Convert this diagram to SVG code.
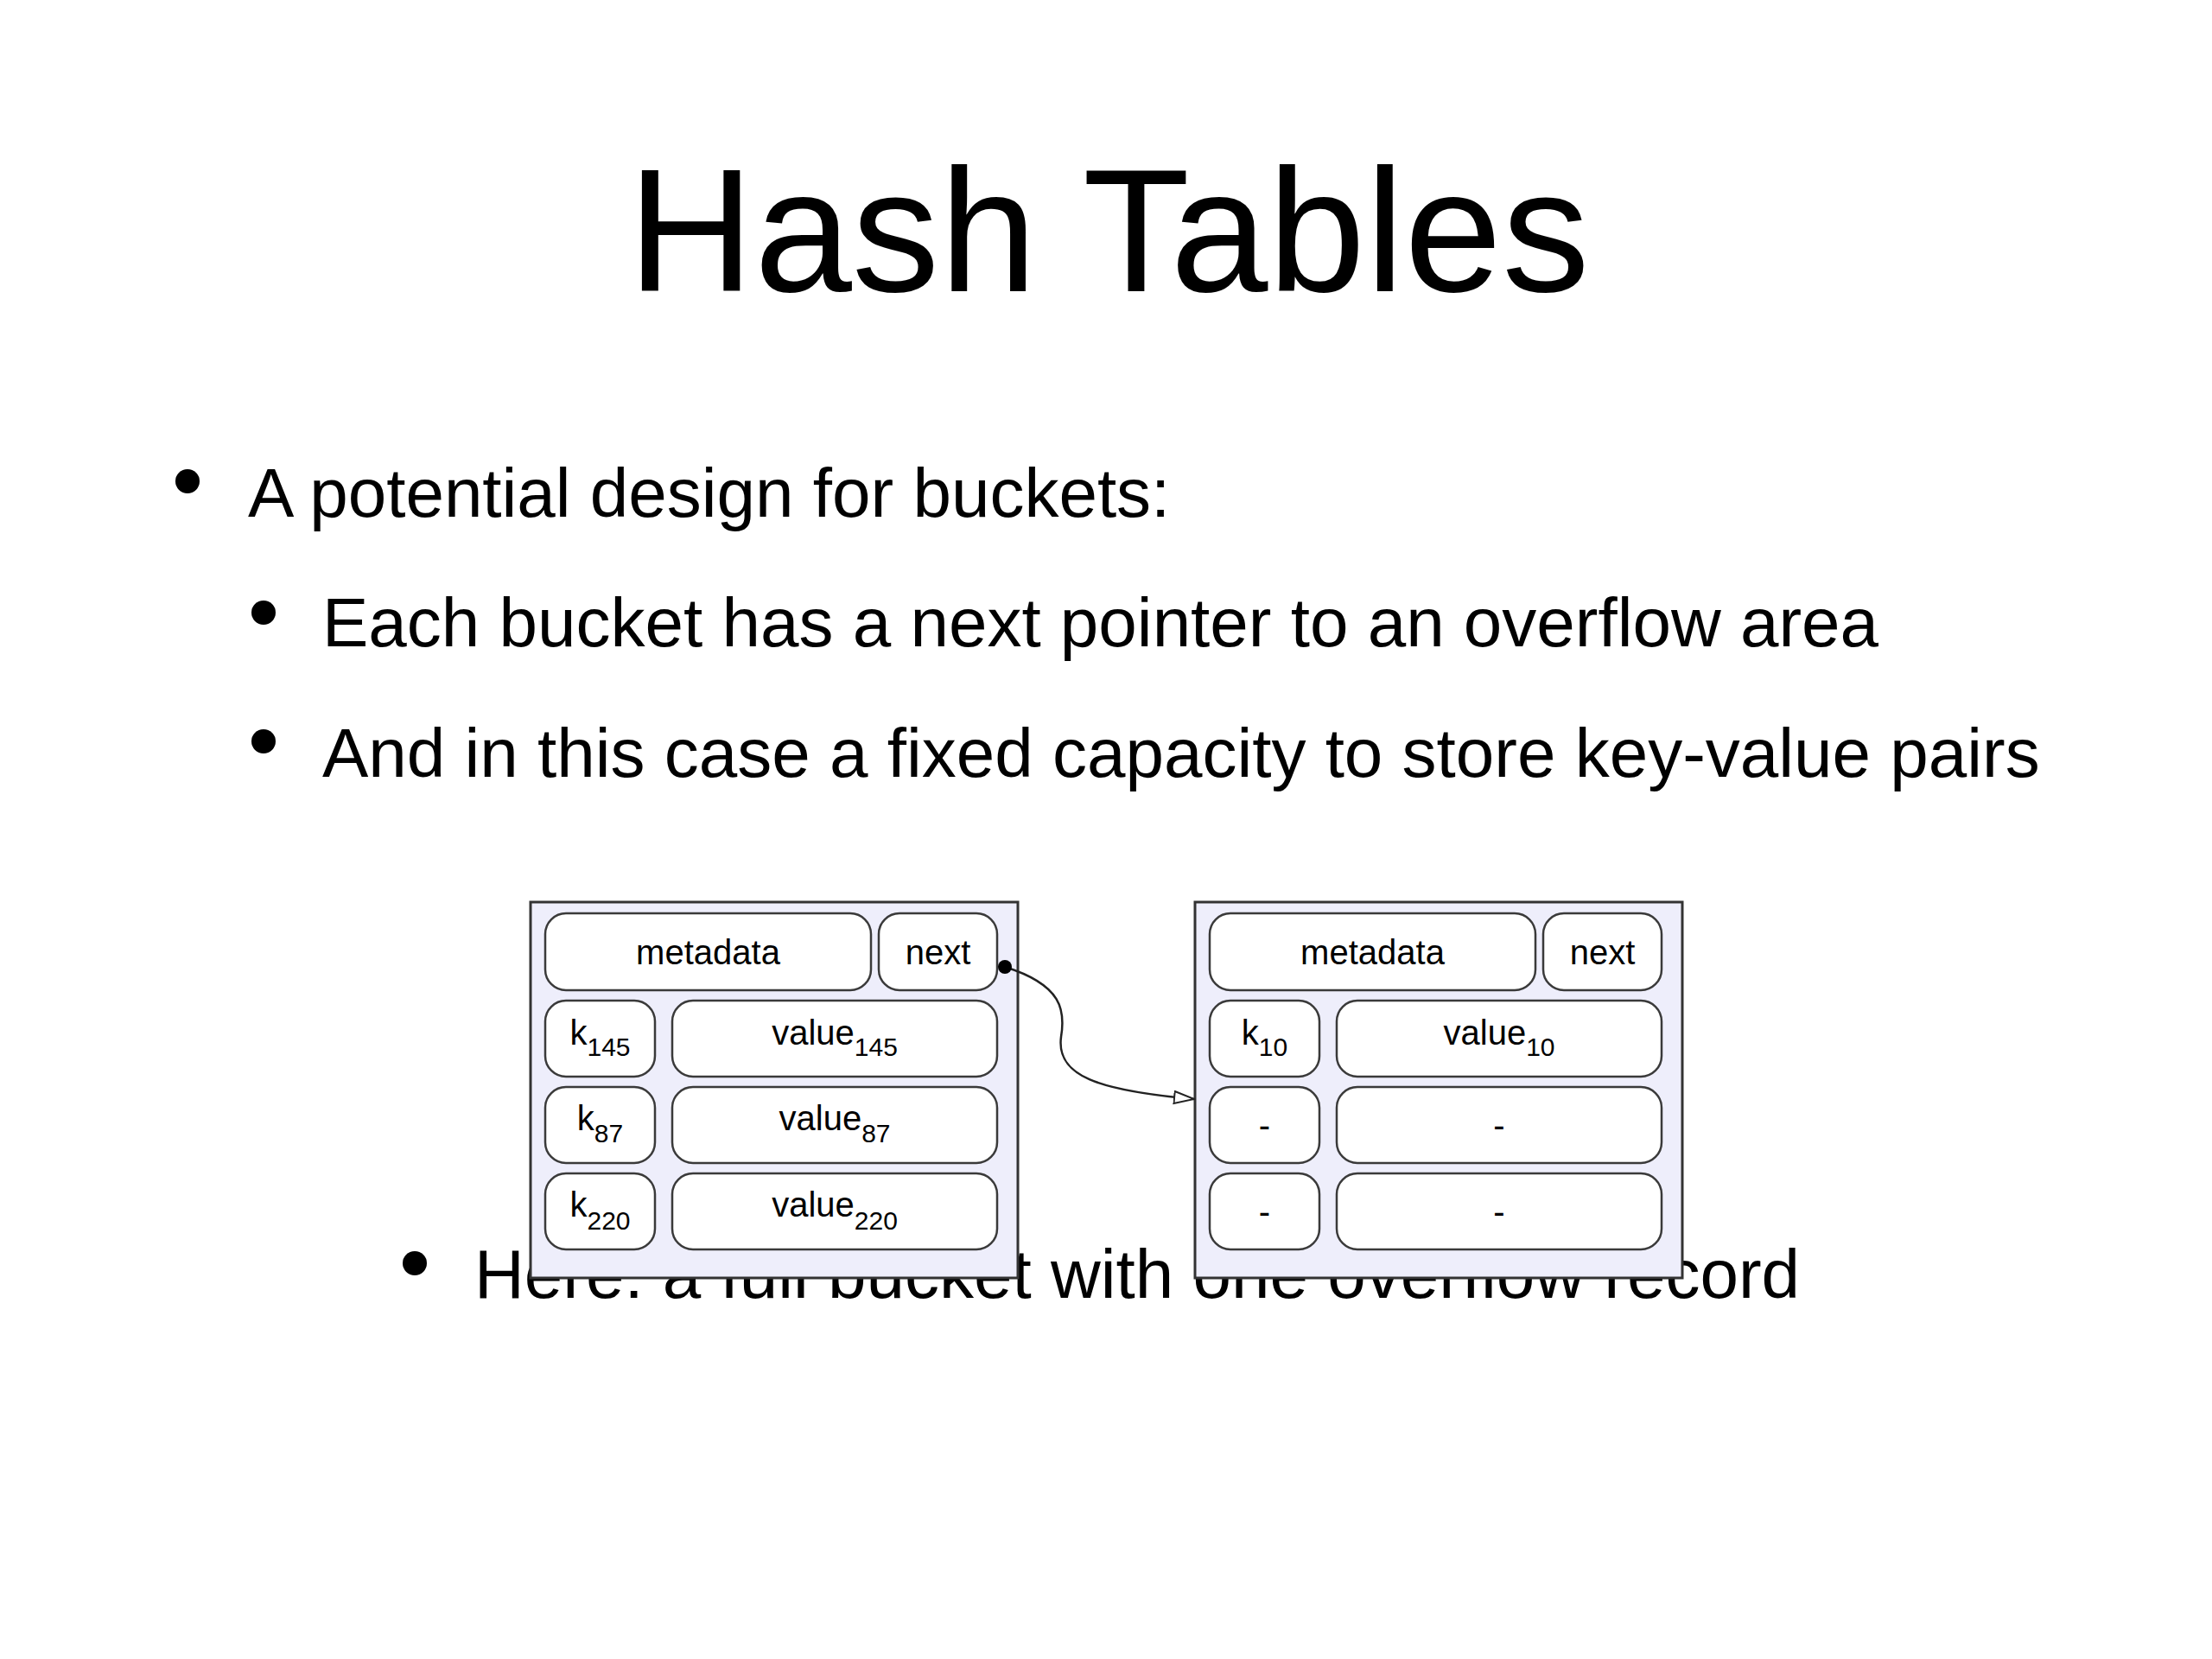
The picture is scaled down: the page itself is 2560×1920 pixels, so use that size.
<svg xmlns="http://www.w3.org/2000/svg" width="2560" height="1920" viewBox="0 0 2560 1920">
<defs>
<style>
text{font-family:"Liberation Sans",Arial,Helvetica,sans-serif;fill:#000}
.title{font-size:203px;text-anchor:middle}
.body{font-size:80px}
.lbl{font-size:40px;text-anchor:middle}
.sub{font-size:30px}
.outer{fill:#eeeefb;stroke:#333;stroke-width:3}
.cell{fill:#fff;stroke:#3a3a3a;stroke-width:2.5}
.edge{fill:none;stroke:#222;stroke-width:2.5}
</style>
<marker id="open" markerUnits="userSpaceOnUse" markerWidth="26" markerHeight="18" refX="24" refY="8" orient="auto">
<path d="M1,1 L24,8 L1,15 Z" fill="#fff" stroke="#222" stroke-width="2"/>
</marker>
</defs>
<rect width="2560" height="1920" fill="#fff"/>
<g id="slide-text">
<text class="title" x="1283" y="337">Hash Tables</text>
<circle cx="217" cy="557" r="14"/>
<text class="body" x="287" y="598">A potential design for buckets:</text>
<circle cx="305" cy="709" r="14"/>
<text class="body" x="373" y="748">Each bucket has a next pointer to an overflow area</text>
<circle cx="305" cy="858" r="14"/>
<text class="body" x="373" y="899">And in this case a fixed capacity to store key-value pairs</text>
<circle cx="480" cy="1462" r="14"/>
<text class="body" x="549" y="1502">Here: a full bucket with one overflow record</text>
</g>
<g id="bucket-1">
<rect class="outer" x="614" y="1044" width="564" height="435"/>
<rect class="cell" x="631" y="1057" width="377" height="89" rx="24"/>
<text class="lbl" x="819.5" y="1116">metadata</text>
<rect class="cell" x="1017" y="1057" width="137" height="89" rx="24"/>
<text class="lbl" x="1085.5" y="1116">next</text>
<rect class="cell" x="631" y="1158" width="127" height="88" rx="24"/>
<text class="lbl" x="694.5" y="1209">k<tspan class="sub" dy="13">145</tspan></text>
<rect class="cell" x="778" y="1158" width="376" height="88" rx="24"/>
<text class="lbl" x="966" y="1209">value<tspan class="sub" dy="13">145</tspan></text>
<rect class="cell" x="631" y="1258" width="127" height="88" rx="24"/>
<text class="lbl" x="694.5" y="1308">k<tspan class="sub" dy="14">87</tspan></text>
<rect class="cell" x="778" y="1258" width="376" height="88" rx="24"/>
<text class="lbl" x="966" y="1308">value<tspan class="sub" dy="14">87</tspan></text>
<rect class="cell" x="631" y="1358" width="127" height="88" rx="24"/>
<text class="lbl" x="694.5" y="1408">k<tspan class="sub" dy="15">220</tspan></text>
<rect class="cell" x="778" y="1358" width="376" height="88" rx="24"/>
<text class="lbl" x="966" y="1408">value<tspan class="sub" dy="15">220</tspan></text>
</g>
<g id="bucket-2">
<rect class="outer" x="1383" y="1044" width="564" height="435"/>
<rect class="cell" x="1400" y="1057" width="377" height="89" rx="24"/>
<text class="lbl" x="1588.5" y="1116">metadata</text>
<rect class="cell" x="1786" y="1057" width="137" height="89" rx="24"/>
<text class="lbl" x="1854.5" y="1116">next</text>
<rect class="cell" x="1400" y="1158" width="127" height="88" rx="24"/>
<text class="lbl" x="1463.5" y="1209">k<tspan class="sub" dy="13">10</tspan></text>
<rect class="cell" x="1547" y="1158" width="376" height="88" rx="24"/>
<text class="lbl" x="1735" y="1209">value<tspan class="sub" dy="13">10</tspan></text>
<rect class="cell" x="1400" y="1258" width="127" height="88" rx="24"/>
<text class="lbl" x="1463.5" y="1316">-</text>
<rect class="cell" x="1547" y="1258" width="376" height="88" rx="24"/>
<text class="lbl" x="1735" y="1316">-</text>
<rect class="cell" x="1400" y="1358" width="127" height="88" rx="24"/>
<text class="lbl" x="1463.5" y="1416">-</text>
<rect class="cell" x="1547" y="1358" width="376" height="88" rx="24"/>
<text class="lbl" x="1735" y="1416">-</text>
</g>
<g id="connectors">
<path class="edge" d="M1163,1119 C1230,1140 1233,1170 1228,1200 C1222,1245 1270,1262 1382,1272" marker-end="url(#open)"/>
<circle cx="1163" cy="1119" r="8" fill="#000"/>
</g>
</svg>
